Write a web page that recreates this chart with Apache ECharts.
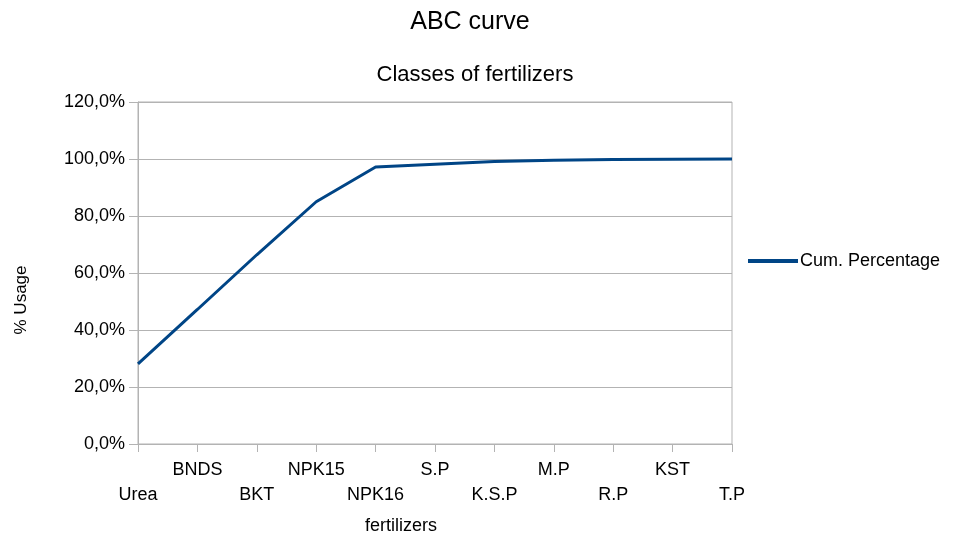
<!DOCTYPE html>
<html>
<head>
<meta charset="utf-8">
<script src="https://cdn.jsdelivr.net/npm/echarts@6/dist/echarts.min.js"></script>
<style>
html,body{margin:0;padding:0;background:#fff;}
#chart{width:960px;height:536px;}
</style>
</head>
<body>
<div id="chart"></div>
<script>
var titleText = 'ABC curve';
var subtitleText = 'Classes of fertilizers';
var categories = ['Urea', 'BNDS', 'BKT', 'NPK15', 'NPK16', 'S.P', 'K.S.P', 'M.P', 'R.P', 'KST', 'T.P'];
var cumPercentage = [28.1, 47.2, 66.4, 85.0, 97.2, 98.2, 99.1, 99.6, 99.8, 99.9, 100.0];
var seriesName = 'Cum. Percentage';
var xAxisName = 'fertilizers';
var yAxisName = '% Usage';
var yMin = 0, yMax = 120, yStep = 20;

var FONT = 'Liberation Sans, Arial, sans-serif';
var GRAY = '#b3b3b3';

var chart = echarts.init(document.getElementById('chart'));
chart.setOption({
  animation: false,
  backgroundColor: '#fff',
  textStyle: { fontFamily: FONT, color: '#000' },
  title: [
    { text: titleText, left: 465, top: 5, textAlign: 'center',
      textStyle: { fontFamily: FONT, fontSize: 25, fontWeight: 'normal', color: '#000' } },
    { text: subtitleText, left: 470, top: 59, textAlign: 'center',
      textStyle: { fontFamily: FONT, fontSize: 22, fontWeight: 'normal', color: '#000' } }
  ],
  legend: {
    left: 748, top: 252, padding: 0,
    itemWidth: 50, itemHeight: 4, itemGap: 10,
    icon: 'rect',
    data: [seriesName],
    textStyle: { fontFamily: FONT, fontSize: 18, color: '#000', padding: [0,0,0,-3] }
  },
  grid: {
    left: 138, right: 228, top: 102, bottom: 92,
    outerBoundsMode: 'none',
    containLabel: false,
    show: true, borderColor: GRAY, borderWidth: 1
  },
  xAxis: {
    type: 'category',
    data: categories,
    boundaryGap: false,
    name: xAxisName,
    nameLocation: 'middle',
    nameGap: 73,
    nameTextStyle: { fontFamily: FONT, fontSize: 18, color: '#000', padding: [0, 68, 0, 0] },
    axisLine: { lineStyle: { color: GRAY, width: 1 } },
    axisTick: { show: true, length: 8, inside: false, alignWithLabel: true, lineStyle: { color: GRAY } },
    splitLine: { show: false },
    axisLabel: {
      interval: 0,
      margin: 14,
      fontFamily: FONT, fontSize: 18, color: '#000',
      lineHeight: 25,
      formatter: function (v, i) { return i % 2 === 0 ? '\n' + v : v; }
    }
  },
  yAxis: {
    type: 'value',
    min: yMin, max: yMax, interval: yStep,
    name: yAxisName,
    nameLocation: 'middle',
    nameGap: 108,
    nameRotate: 90,
    nameTextStyle: { fontFamily: FONT, fontSize: 17, color: '#000', padding: [0, 54, 0, 0] },
    axisLine: { show: true, lineStyle: { color: GRAY, width: 1 } },
    axisTick: { show: true, length: 9, inside: false, lineStyle: { color: GRAY } },
    splitLine: { show: true, lineStyle: { color: GRAY, width: 1 } },
    axisLabel: {
      margin: 13,
      fontFamily: FONT, fontSize: 18, color: '#000',
      formatter: function (v) { return v.toFixed(1).replace('.', ',') + '%'; }
    }
  },
  series: [{
    name: seriesName,
    type: 'line',
    data: cumPercentage,
    symbol: 'none',
    smooth: false,
    lineStyle: { color: '#004586', width: 3 },
    itemStyle: { color: '#004586' }
  }]
});
</script>
</body>
</html>
